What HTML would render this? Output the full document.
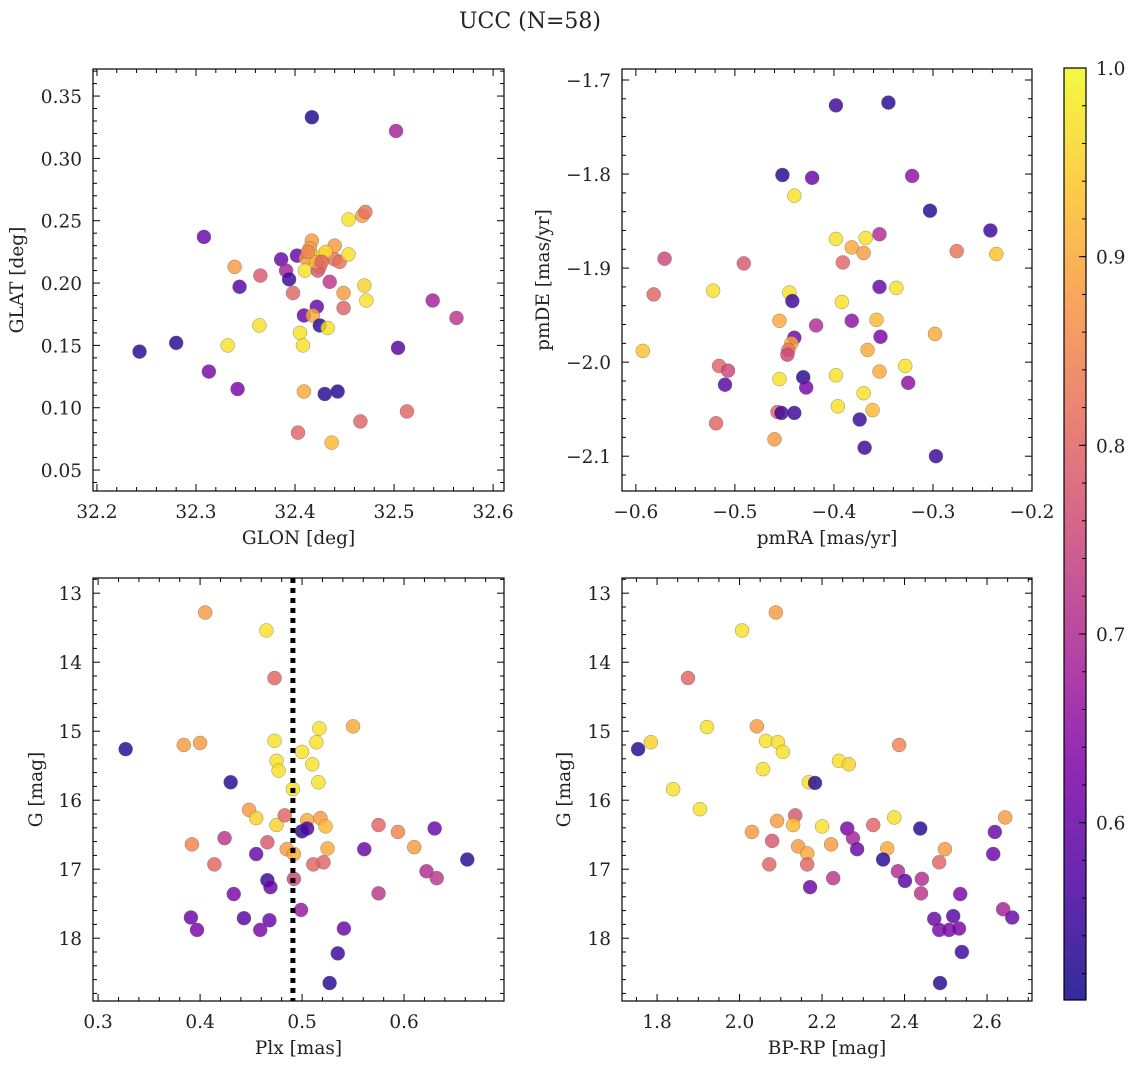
<!DOCTYPE html>
<html><head><meta charset="utf-8">
<style>
html,body{margin:0;padding:0;background:#fff;}
svg text{font-family:"DejaVu Serif","Liberation Serif",serif;fill:#222;}
</style></head>
<body>
<svg id="fig" width="1136" height="1068" viewBox="0 0 1136 1068" xmlns="http://www.w3.org/2000/svg">
<defs>
<linearGradient id="cbgrad" x1="0" y1="1" x2="0" y2="0">
<stop offset="0" stop-color="#0d0887"/><stop offset="0.125" stop-color="#4c02a1"/><stop offset="0.25" stop-color="#7e03a8"/><stop offset="0.375" stop-color="#a92395"/><stop offset="0.5" stop-color="#cc4778"/><stop offset="0.625" stop-color="#e66c5c"/><stop offset="0.75" stop-color="#f89540"/><stop offset="0.875" stop-color="#fdc527"/><stop offset="1" stop-color="#f0f921"/>
</linearGradient>
</defs>
<text x="530" y="28" text-anchor="middle" font-size="22">UCC (N=58)</text>
</svg>
<script>
// Panel 1: GLON / GLAT
const glon = [32.417,32.502,32.308,32.339,32.365,32.344,32.364,32.332,32.280,32.243,32.313,32.342,32.409,32.430,32.443,32.386,32.402,32.391,32.394,32.398,32.417,32.415,32.411,32.418,32.410,32.428,32.425,32.423,32.440,32.440,32.445,32.454,32.435,32.454,32.468,32.471,32.470,32.472,32.449,32.449,32.409,32.422,32.418,32.425,32.433,32.405,32.408,32.539,32.563,32.504,32.513,32.403,32.466,32.437,32.421,32.431,32.413,32.427];
const glat = [0.333,0.322,0.237,0.213,0.206,0.197,0.166,0.150,0.152,0.145,0.129,0.115,0.113,0.111,0.113,0.219,0.222,0.210,0.203,0.192,0.234,0.228,0.220,0.221,0.210,0.222,0.213,0.210,0.230,0.219,0.217,0.223,0.201,0.251,0.254,0.257,0.198,0.186,0.192,0.180,0.174,0.181,0.174,0.166,0.164,0.160,0.150,0.186,0.172,0.148,0.097,0.080,0.089,0.072,0.217,0.225,0.225,0.217];
const prob1 = [0.52,0.68,0.60,0.88,0.78,0.58,0.97,0.97,0.53,0.53,0.62,0.62,0.90,0.53,0.53,0.60,0.60,0.68,0.55,0.80,0.88,0.88,0.88,0.97,0.97,0.97,0.88,0.78,0.88,0.82,0.82,0.97,0.72,0.97,0.88,0.82,0.95,0.97,0.88,0.80,0.60,0.60,0.90,0.53,0.97,0.97,0.97,0.68,0.72,0.58,0.80,0.80,0.80,0.92,0.90,0.95,0.85,0.80];
// Panel 2: pmRA / pmDE
const pmra = [-0.398,-0.345,-0.452,-0.422,-0.321,-0.303,-0.242,-0.440,-0.398,-0.382,-0.370,-0.368,-0.354,-0.391,-0.571,-0.491,-0.276,-0.236,-0.582,-0.522,-0.445,-0.442,-0.392,-0.354,-0.337,-0.455,-0.418,-0.382,-0.357,-0.353,-0.440,-0.443,-0.446,-0.447,-0.298,-0.593,-0.366,-0.516,-0.507,-0.328,-0.354,-0.455,-0.431,-0.398,-0.510,-0.428,-0.325,-0.370,-0.396,-0.361,-0.457,-0.453,-0.440,-0.374,-0.519,-0.460,-0.369,-0.297];
const pmde = [-1.727,-1.724,-1.801,-1.804,-1.802,-1.839,-1.860,-1.823,-1.869,-1.878,-1.884,-1.868,-1.864,-1.894,-1.890,-1.895,-1.882,-1.885,-1.928,-1.924,-1.926,-1.935,-1.936,-1.920,-1.921,-1.956,-1.961,-1.956,-1.955,-1.973,-1.974,-1.980,-1.987,-1.992,-1.970,-1.988,-1.987,-2.004,-2.009,-2.004,-2.010,-2.018,-2.016,-2.014,-2.024,-2.027,-2.022,-2.033,-2.047,-2.051,-2.053,-2.054,-2.054,-2.061,-2.065,-2.082,-2.091,-2.100];
const prob2 = [0.55,0.53,0.53,0.60,0.65,0.53,0.55,0.97,0.97,0.90,0.88,0.97,0.70,0.80,0.75,0.78,0.82,0.93,0.80,0.97,0.97,0.55,0.97,0.60,0.97,0.90,0.70,0.65,0.92,0.62,0.60,0.90,0.82,0.75,0.90,0.93,0.90,0.80,0.75,0.97,0.90,0.97,0.53,0.97,0.58,0.62,0.65,0.97,0.97,0.92,0.80,0.55,0.55,0.55,0.80,0.88,0.55,0.55];
// Panel 3: Plx / G
const plx = [0.384,0.400,0.473,0.517,0.550,0.514,0.500,0.475,0.477,0.510,0.516,0.491,0.430,0.448,0.455,0.475,0.483,0.505,0.518,0.523,0.500,0.505,0.392,0.424,0.466,0.455,0.485,0.492,0.525,0.575,0.594,0.610,0.630,0.561,0.662,0.414,0.511,0.521,0.622,0.632,0.466,0.469,0.492,0.433,0.575,0.499,0.391,0.443,0.468,0.397,0.459,0.541,0.405,0.465,0.473,0.327,0.535,0.527];
const gmag3 = [15.20,15.17,15.14,14.96,14.93,15.16,15.30,15.43,15.57,15.48,15.74,15.84,15.74,16.14,16.26,16.36,16.22,16.29,16.26,16.38,16.45,16.41,16.64,16.55,16.61,16.78,16.71,16.78,16.70,16.36,16.46,16.68,16.41,16.71,16.86,16.93,16.93,16.90,17.03,17.13,17.16,17.26,17.14,17.36,17.35,17.59,17.70,17.71,17.74,17.88,17.88,17.86,13.28,13.54,14.23,15.26,18.22,18.65];
const prob3 = [0.88,0.88,0.97,0.97,0.90,0.97,0.97,0.97,0.97,0.97,0.97,0.97,0.53,0.88,0.95,0.95,0.80,0.90,0.88,0.92,0.53,0.57,0.85,0.72,0.78,0.60,0.88,0.90,0.90,0.80,0.85,0.88,0.60,0.60,0.53,0.80,0.80,0.80,0.70,0.72,0.55,0.60,0.75,0.62,0.72,0.66,0.60,0.58,0.60,0.62,0.62,0.60,0.88,0.97,0.80,0.53,0.55,0.53];
// Panel 4: BP-RP / G
const bprp = [2.042,2.064,2.093,2.105,2.057,2.241,2.265,2.387,2.168,2.183,2.135,2.091,2.130,2.200,2.030,2.261,2.324,2.375,2.438,2.644,2.619,2.079,2.142,2.164,2.222,2.275,2.285,2.358,2.498,2.615,2.072,2.164,2.348,2.484,2.384,2.227,2.442,2.401,2.171,2.440,2.535,2.639,2.661,2.472,2.518,2.484,2.508,2.532,2.088,2.006,1.875,1.754,1.785,1.921,1.839,1.904,2.539,2.486];
const gmag4 = [14.93,15.14,15.16,15.30,15.55,15.43,15.48,15.20,15.74,15.75,16.22,16.30,16.36,16.38,16.46,16.41,16.36,16.25,16.41,16.25,16.46,16.59,16.67,16.77,16.64,16.55,16.71,16.70,16.71,16.78,16.93,16.93,16.86,16.90,17.03,17.13,17.14,17.17,17.26,17.35,17.36,17.58,17.70,17.72,17.68,17.88,17.88,17.86,13.28,13.54,14.23,15.26,15.16,14.94,15.84,16.13,18.20,18.65];
const prob4 = [0.88,0.97,0.97,0.97,0.97,0.97,0.95,0.85,0.97,0.53,0.78,0.88,0.92,0.97,0.88,0.62,0.80,0.97,0.53,0.88,0.60,0.78,0.88,0.90,0.88,0.68,0.60,0.90,0.88,0.60,0.80,0.80,0.53,0.80,0.70,0.72,0.70,0.58,0.60,0.72,0.62,0.68,0.60,0.60,0.58,0.62,0.62,0.62,0.88,0.97,0.80,0.53,0.95,0.97,0.97,0.97,0.55,0.53];
const cbTicks = [0.6,0.7,0.8,0.9,1.0];
const plxLine = 0.491;

const NS = "http://www.w3.org/2000/svg";
const svg = document.getElementById('fig');
const VMIN = 0.506, VMAX = 1.0;
const FS = 18.5;
const stops = [[13,8,135],[76,2,161],[126,3,168],[169,35,149],[204,71,120],[230,108,92],[248,149,64],[253,197,39],[240,249,33]];
function cmap(v){
  let t=(v-VMIN)/(VMAX-VMIN); t=Math.max(0,Math.min(1,t))*8;
  const i=Math.min(7,Math.floor(t)), f=t-i, a=stops[i], b=stops[i+1];
  return 'rgb('+a.map((c,k)=>Math.round(c+(b[k]-c)*f)).join(',')+')';
}
function el(tag, attrs, parent){
  const e=document.createElementNS(NS,tag);
  for(const k in attrs) e.setAttribute(k,attrs[k]);
  (parent||svg).appendChild(e); return e;
}
function fmt(v,d){ const s=v.toFixed(d); return s.replace('-','\u2212'); }

function panel(o){
  const g=el('g',{});
  
  
  const sx=v=>o.x0+(v-o.xmin)/(o.xmax-o.xmin)*(o.x1-o.x0);
  const sy=o.yinv ? (v=>o.y0+(v-o.ymin)/(o.ymax-o.ymin)*(o.y1-o.y0)) : (v=>o.y1-(v-o.ymin)/(o.ymax-o.ymin)*(o.y1-o.y0));
  for(let i=0;i<o.xs.length;i++){
    const c=el('circle',{cx:sx(o.xs[i]),cy:sy(o.ys[i]),r:7,fill:cmap(o.ps[i]),'fill-opacity':0.82,stroke:'#666','stroke-width':0.5,'stroke-opacity':0.7},g);
    
    
  }
  if(o.vline!==undefined){
    const l=el('line',{x1:sx(o.vline),x2:sx(o.vline),y1:o.y0,y2:o.y1,stroke:'#000','stroke-width':5,'stroke-dasharray':'5,5'},g);
    
    
  }
  const fr=el('rect',{x:o.x0,y:o.y0,width:o.x1-o.x0,height:o.y1-o.y0,fill:'none',stroke:'#000','stroke-width':1.2},g);
  
  
  const eps=1e-9;
  for(let v=Math.ceil((o.xmin-eps)/o.xminor)*o.xminor; v<=o.xmax+eps; v+=o.xminor){
    const px=sx(v); const isMaj=Math.abs(v/o.xmajor-Math.round(v/o.xmajor))<1e-6; const L=isMaj?7:4;
    el('line',{x1:px,x2:px,y1:o.y1,y2:o.y1-L,stroke:'#000','stroke-width':1},g);
    el('line',{x1:px,x2:px,y1:o.y0,y2:o.y0+L,stroke:'#000','stroke-width':1},g);
    if(isMaj){
      const t=el('text',{x:px,y:o.y1+27,'text-anchor':'middle','font-size':FS},g);
      t.textContent=fmt(v,o.xd);
      
      
    }
  }
  for(let v=Math.ceil((o.ymin-eps)/o.yminor)*o.yminor; v<=o.ymax+eps; v+=o.yminor){
    const py=sy(v); const isMaj=Math.abs(v/o.ymajor-Math.round(v/o.ymajor))<1e-6; const L=isMaj?7:4;
    el('line',{x1:o.x0,x2:o.x0+L,y1:py,y2:py,stroke:'#000','stroke-width':1},g);
    el('line',{x1:o.x1,x2:o.x1-L,y1:py,y2:py,stroke:'#000','stroke-width':1},g);
    if(isMaj){
      const t=el('text',{x:o.x0-11,y:py+7,'text-anchor':'end','font-size':FS},g);
      t.textContent=fmt(v,o.yd);
      
      
    }
  }
  const xl=el('text',{x:(o.x0+o.x1)/2,y:o.y1+53,'text-anchor':'middle','font-size':FS},g);
  xl.textContent=o.xlabel;
  
  
  const yx=o.ylabx, yy=(o.y0+o.y1)/2;
  const yl=el('text',{x:yx,y:yy,'text-anchor':'middle','font-size':FS,transform:'rotate(-90 '+yx+' '+yy+')'},g);
  yl.textContent=o.ylabel;
  
  
}

panel({name:'glon-glat-panel',xs:glon,ys:glat,ps:prob1,x0:93,x1:504,y0:69,y1:491,xmin:32.196,xmax:32.611,ymin:0.0332,ymax:0.3717,xmajor:0.1,xminor:0.02,ymajor:0.05,yminor:0.01,xd:1,yd:2,xlabel:'GLON [deg]',ylabel:'GLAT [deg]',ylabx:23});
panel({name:'pm-panel',xs:pmra,ys:pmde,ps:prob2,x0:622,x1:1032,y0:69,y1:491,xmin:-0.614,xmax:-0.2,ymin:-2.137,ymax:-1.6883,xmajor:0.1,xminor:0.02,ymajor:0.1,yminor:0.02,xd:1,yd:1,xlabel:'pmRA [mas/yr]',ylabel:'pmDE [mas/yr]',ylabx:549});
panel({name:'plx-g-panel',xs:plx,ys:gmag3,ps:prob3,x0:93,x1:504,y0:578,y1:1001,xmin:0.295,xmax:0.698,ymin:12.78,ymax:18.91,yinv:true,xmajor:0.1,xminor:0.02,ymajor:1,yminor:0.2,xd:1,yd:0,xlabel:'Plx [mas]',ylabel:'G [mag]',ylabx:42,vline:plxLine});
panel({name:'color-g-panel',xs:bprp,ys:gmag4,ps:prob4,x0:622,x1:1032,y0:578,y1:1001,xmin:1.715,xmax:2.709,ymin:12.78,ymax:18.91,yinv:true,xmajor:0.2,xminor:0.05,ymajor:1,yminor:0.2,xd:1,yd:0,xlabel:'BP-RP [mag]',ylabel:'G [mag]',ylabx:570});

const cb=el('g',{});


const cbx0=1064, cbx1=1086, cby0=68, cby1=1000;
el('rect',{x:cbx0,y:cby0,width:cbx1-cbx0,height:cby1-cby0,fill:'url(#cbgrad)','fill-opacity':0.85},cb);
el('rect',{x:cbx0,y:cby0,width:cbx1-cbx0,height:cby1-cby0,fill:'none',stroke:'#000','stroke-width':1.2},cb);
const cby=v=>cby1-(v-VMIN)/(VMAX-VMIN)*(cby1-cby0);
for(let v=0.52; v<=1.0001; v+=0.02){
  const py=cby(v);
  el('line',{x1:cbx1,x2:cbx1-4,y1:py,y2:py,stroke:'#000','stroke-width':1},cb);
}
cbTicks.forEach(v=>{
  const py=cby(v);
  el('line',{x1:cbx1,x2:cbx1-7,y1:py,y2:py,stroke:'#000','stroke-width':1},cb);
  const t=el('text',{x:cbx1+10,y:py+7,'font-size':FS},cb);
  t.textContent=v.toFixed(1);
  
  
});
</script>
</body></html>
